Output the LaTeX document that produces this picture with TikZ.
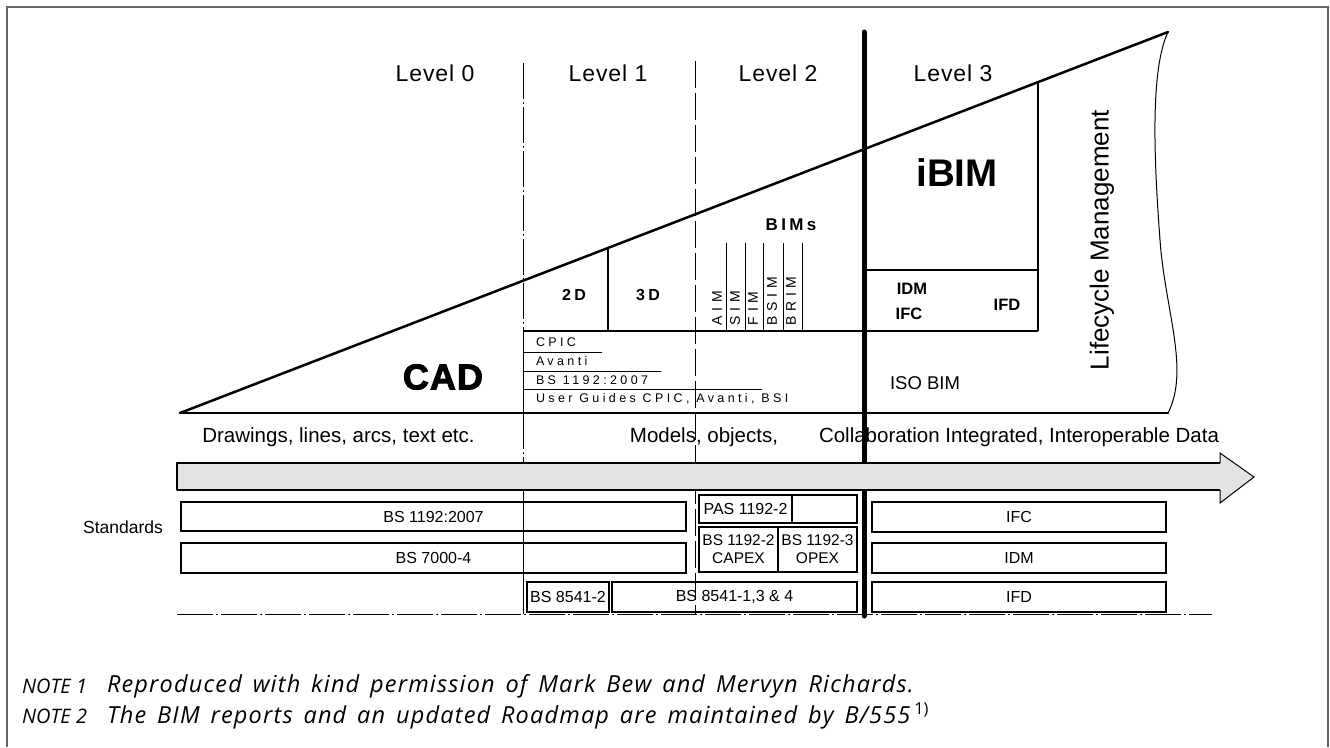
\documentclass[tikz,border=0pt]{standalone}
\usepackage{fontspec}
\setmainfont{Liberation Sans}
\newfontfamily\levfont[LetterSpace=4]{Liberation Sans}
\newfontfamily\spfont[LetterSpace=27]{Liberation Sans}
\newfontfamily\bimfont[LetterSpace=32]{Liberation Sans}
\newfontfamily\spbold[LetterSpace=20]{Liberation Sans Bold}
\newfontfamily\heavyfont[FakeBold=2.5,LetterSpace=3]{Liberation Sans Bold}
\newfontfamily\notefont{Open Sans}
\newfontfamily\notebody[LetterSpace=5,WordSpace=1.5]{Open Sans}
\tikzset{
  frm/.style={draw=black!60, line width=2},
  heavy/.style={line width=2.5, line cap=round, line join=round},
  mid/.style={line width=2},
  thin/.style={line width=1},
  dashdot/.style={line width=1, dash pattern=on 36pt off 3pt on 2pt off 3pt},
  dashedl/.style={line width=1, dash pattern=on 27pt off 5pt},
  sbox/.style={draw, line width=2, inner sep=0pt, align=center,
               font=\fontsize{16}{16}\selectfont},
  lev/.style={font=\levfont\fontsize{23}{26}\selectfont},
  sp/.style={font=\spfont\fontsize{12.5}{14}\selectfont, anchor=west},
  bimlab/.style={rotate=90, anchor=west, font=\bimfont\fontsize{14}{14}\selectfont},
  captxt/.style={font=\fontsize{20.5}{24}\selectfont},
  notelab/.style={anchor=west, font=\notefont\itshape\fontsize{20}{24}\selectfont},
  note/.style={anchor=west, font=\notebody\itshape\fontsize{23.5}{26}\selectfont}
}
\begin{document}
\begin{tikzpicture}[x=1pt,y=-1pt, every node/.style={inner sep=0pt, outer sep=0pt}]
\useasboundingbox (0,0) rectangle (1330,747);
% frame
\draw[frm] (7,747) -- (7,7) -- (1328,7) -- (1328,747);

% level separators
\draw[dashdot] (523,63) -- (523,331);
\draw[thin] (523,331) -- (523,413);
\draw[dashdot] (523,413) -- (523,463);
\draw[thin] (523,490) -- (523,614);
\draw[dashedl] (695,61) -- (695,614);
\draw[dashdot] (177,614) -- (1212,614);

% level labels
\node[lev] (lev0) at (435,73) {Level 0};
\node[lev] (lev1) at (608,73) {Level 1};
\node[lev] (lev2) at (778,73) {Level 2};
\node[lev] (lev3) at (953,73) {Level 3};

% triangle
\coordinate (L) at (180,413);
\coordinate (T) at (1168,32);
\coordinate (B) at (1168,413);
\draw[heavy] (L) -- (T);
\draw[heavy] (L) -- (B);
\draw[thin] (T) .. controls (1150,70) and (1154,160) .. (1160,240)
            .. controls (1165,310) and (1190,370) .. (B);

% level 1 / 2 structure
\draw[mid] (523,331) -- (1038,331);
\draw[mid] (608,331) -- (608,248);
\draw[thin] (523,352) -- (602,352);
\draw[thin] (523,371) -- (661,371);
\draw[thin] (523,389) -- (762,389);
\foreach \xx in {726,745,763,783,802} \draw[thin] (\xx,243) -- (\xx,331);

% iBIM box
\draw[mid] (1038,82) -- (1038,331);
\draw[mid] (864,270) -- (1038,270);

% thick level-3 separator
\draw[line width=5, line cap=round] (864,32) -- (864,616);

% texts inside triangle
\node[font=\heavyfont\fontsize{36}{36}\selectfont] (cad) at (443,377) {CAD};
\node[font=\spbold\fontsize{16}{16}\selectfont] (t2d) at (574,295) {2D};
\node[font=\spbold\fontsize{16}{16}\selectfont] (t3d) at (648,295) {3D};
\node[font=\spbold\fontsize{17}{18}\selectfont] (bims) at (791,225) {BIMs};
\node[bimlab] (aim) at (717,325) {AIM};
\node[bimlab] (sim) at (735,325) {SIM};
\node[bimlab] (fim) at (753,325) {FIM};
\node[bimlab] (bsim) at (772,325) {BSIM};
\node[bimlab] (brim) at (791,325) {BRIM};
\node[sp] (cpic) at (536,342) {CPIC};
\node[sp] (avanti) at (536,361) {Avanti};
\node[sp] (bs1192t) at (536,380) {BS 1192:2007};
\node[sp] (ug) at (536,399) {User Guides CPIC, Avanti, BSI};
\node[font=\bfseries\fontsize{38.5}{38}\selectfont] (ibim) at (957,173) {iBIM};
\node[font=\bfseries\fontsize{16.5}{17}\selectfont] (idm) at (912,289) {IDM};
\node[font=\bfseries\fontsize{16.5}{17}\selectfont] (ifc) at (909,314) {IFC};
\node[font=\bfseries\fontsize{16.5}{17}\selectfont] (ifd) at (1007,305) {IFD};
\node[font=\fontsize{18.5}{20}\selectfont] (isobim) at (925,383) {ISO BIM};
\node[rotate=90, font=\fontsize{26}{28}\selectfont] (lcm) at (1102,240) {Lifecycle Management};

% captions
\node[captxt] (cdraw) at (338.5,437) {Drawings, lines, arcs, text etc.};
\node[captxt] (cmod) at (704,437) {Models, objects,};
\node[captxt] (ccol) at (1019,437) {Collaboration Integrated, Interoperable Data};

% arrow
\fill[black!11] (177,463) -- (1220,463) -- (1220,453) -- (1254,477) -- (1220,503) -- (1220,490) -- (177,490) -- cycle;
\draw[line width=1] (1220,463) -- (1220,453) -- (1254,477) -- (1220,503) -- (1220,490);
\draw[line width=2.2, line join=round] (1220,463) -- (177,463) -- (177,490) -- (1220,490);

% standards
\node[font=\fontsize{17.5}{18}\selectfont] (std) at (123,527) {Standards};
\node[sbox, minimum width=505, minimum height=29] (s1) at (433.5,516.5) {BS 1192:2007};
\node[sbox, minimum width=505, minimum height=30] (s2) at (433.5,558) {BS 7000-4};
\node[sbox, minimum width=82, minimum height=30] (s3) at (568,597) {BS 8541-2};
\node[sbox, minimum width=245, minimum height=30] (s4) at (734.5,597) {BS 8541-1,3 \& 4};
\node[sbox, minimum width=93, minimum height=28] (s5) at (745.5,509) {PAS 1192-2};
\node[sbox, minimum width=65, minimum height=28] (s6) at (824.5,509) {};
\node[sbox, minimum width=79, minimum height=45, font=\fontsize{15.5}{18}\selectfont] (s7) at (738.5,549.5) {BS 1192-2\\CAPEX};
\node[sbox, minimum width=79, minimum height=45, font=\fontsize{15.5}{18}\selectfont] (s8) at (817.5,549.5) {BS 1192-3\\OPEX};
\node[sbox, minimum width=294, minimum height=30] (s9) at (1019,517) {IFC};
\node[sbox, minimum width=294, minimum height=30] (s10) at (1019,558) {IDM};
\node[sbox, minimum width=294, minimum height=30] (s11) at (1019,597) {IFD};

% notes
\node[notelab] (n1a) at (22,686) {NOTE 1};
\node[note] (n1b) at (107,686) {Reproduced with kind permission of Mark Bew and Mervyn Richards.};
\node[notelab] (n2a) at (22,716) {NOTE 2};
\node[note] (n2b) at (107,716) {The BIM reports and an updated Roadmap are maintained by B/555\,\textsuperscript{\notefont\upshape 1)}};
\end{tikzpicture}
\end{document}
